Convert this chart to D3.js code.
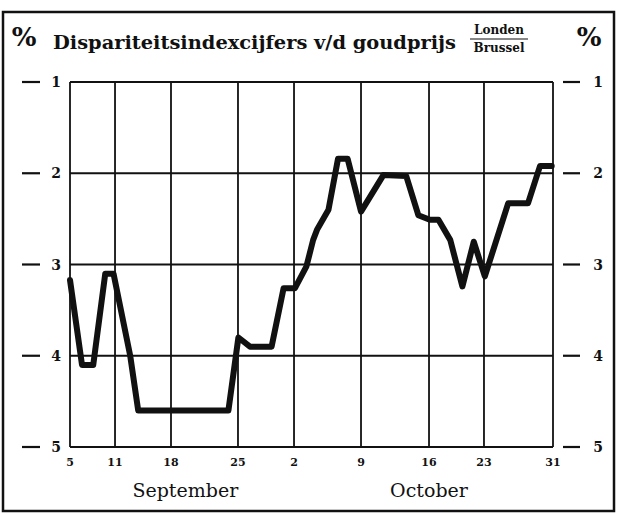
<!DOCTYPE html>
<html>
<head>
<meta charset="utf-8">
<script src="https://cdn.jsdelivr.net/npm/d3@7"></script>
<style>
  html, body { margin: 0; padding: 0; background: #fff; }
  svg { display: block; }
  text { font-family: "DejaVu Serif", "Liberation Serif", serif; fill: #111; }
</style>
</head>
<body>
<svg id="chart" width="618" height="514"></svg>
<script>
// ---- data ----
// day offsets counted from 5 September (Sept 5 = 0, Oct 2 = 27, Oct 31 = 56)
const tickDays   = [0, 6, 13, 20, 27, 34, 41, 48, 56];
const tickLabels = ["5", "11", "18", "25", "2", "9", "16", "23", "31"];
const months     = ["September", "October"];
const monthDays  = [14.5, 41];
const yTicks     = [1, 2, 3, 4, 5];
const yLabels    = ["1", "2", "3", "4", "5"];
const seriesDays = [0, 1.6, 3.1, 4.7, 5.8, 7.9, 8.9, 19, 20.05, 21.5, 24.2, 25.7, 27.1, 28.3, 29, 29.4, 30.6, 31.6, 32.6, 34, 36.3, 38.65, 39.9, 41.1, 42.2, 43.7, 45.25, 46.7, 48.1, 50.8, 53.1, 54.5, 55.85];
const seriesVals = [3.17, 4.1, 4.1, 3.1, 3.1, 4.0, 4.6, 4.6, 3.8, 3.9, 3.9, 3.26, 3.26, 3.02, 2.73, 2.62, 2.4, 1.84, 1.84, 2.42, 2.02, 2.03, 2.46, 2.51, 2.51, 2.73, 3.24, 2.75, 3.13, 2.33, 2.33, 1.92, 1.92];

// ---- layout ----
const plot = { left: 70, top: 82, right: 553, bottom: 447 };
// hand-drawn grid: weekly columns are not evenly spaced (fractions of plot width)
const gridFrac = [0, 0.0932, 0.2091, 0.3478, 0.4638, 0.6025, 0.7433, 0.8571, 1];

const svg = d3.select("#chart");

const x = d3.scaleLinear()
  .domain(tickDays)
  .range(gridFrac.map(f => plot.left + f * (plot.right - plot.left)));
const y = d3.scaleLinear().domain([1, 5]).range([plot.top, plot.bottom]);

// outer frame
svg.append("rect")
  .attr("x", 3).attr("y", 12).attr("width", 611).attr("height", 499)
  .attr("fill", "none").attr("stroke", "#111").attr("stroke-width", 2.5);

// grid
const g = svg.append("g");
g.selectAll("line.v").data(tickDays).join("line")
  .attr("x1", d => x(d)).attr("x2", d => x(d))
  .attr("y1", plot.top).attr("y2", plot.bottom)
  .attr("stroke", "#111").attr("stroke-width", 1.8);
g.selectAll("line.h").data(yTicks).join("line")
  .attr("x1", plot.left).attr("x2", plot.right)
  .attr("y1", d => y(d)).attr("y2", d => y(d))
  .attr("stroke", "#111").attr("stroke-width", 1.8);

// y axis marks (left and right)
const sides = [
  { d1: 22, d2: 40, lx: 56 },
  { d1: 563, d2: 580, lx: 598 }
];
sides.forEach(s => {
  svg.append("g").selectAll("line").data(yTicks).join("line")
    .attr("x1", s.d1).attr("x2", s.d2)
    .attr("y1", d => y(d)).attr("y2", d => y(d))
    .attr("stroke", "#111").attr("stroke-width", 2.2);
  svg.append("g").selectAll("text").data(yTicks).join("text")
    .attr("x", s.lx).attr("y", d => y(d))
    .attr("dy", "0.36em")
    .attr("text-anchor", "middle")
    .attr("font-size", 14).attr("font-weight", "bold")
    .text((d, i) => yLabels[i]);
});

// x tick labels
svg.append("g").selectAll("text").data(tickDays).join("text")
  .attr("x", d => x(d)).attr("y", 466)
  .attr("text-anchor", "middle")
  .attr("font-size", 11).attr("font-weight", "bold")
  .text((d, i) => tickLabels[i]);

// month labels
svg.append("g").selectAll("text").data(months).join("text")
  .attr("x", (d, i) => x(monthDays[i]) ).attr("y", 497)
  .attr("text-anchor", "middle")
  .attr("font-size", 19)
  .text(d => d);

// title
svg.append("text").attr("x", 24).attr("y", 46).attr("text-anchor", "middle")
  .attr("font-size", 26).attr("font-weight", "bold").text("%");
svg.append("text").attr("x", 589).attr("y", 46).attr("text-anchor", "middle")
  .attr("font-size", 26).attr("font-weight", "bold").text("%");
svg.append("text").attr("x", 53).attr("y", 49)
  .attr("font-size", 18).attr("font-weight", "bold")
  .attr("textLength", 403).attr("lengthAdjust", "spacingAndGlyphs")
  .text("Dispariteitsindexcijfers v/d goudprijs");
svg.append("text").attr("x", 499).attr("y", 34).attr("text-anchor", "middle")
  .attr("font-size", 12).attr("font-weight", "bold").text("Londen");
svg.append("line").attr("x1", 470).attr("x2", 528).attr("y1", 39).attr("y2", 39)
  .attr("stroke", "#111").attr("stroke-width", 1.2);
svg.append("text").attr("x", 499).attr("y", 52).attr("text-anchor", "middle")
  .attr("font-size", 12).attr("font-weight", "bold").text("Brussel");

// series line
const pts = seriesDays.map((d, i) => [d, seriesVals[i]]);
svg.append("path")
  .datum(pts)
  .attr("fill", "none")
  .attr("stroke", "#111")
  .attr("stroke-width", 6)
  .attr("stroke-linejoin", "round")
  .attr("stroke-linecap", "round")
  .attr("d", d3.line().x(d => x(d[0])).y(d => y(d[1])));
</script>
</body>
</html>
